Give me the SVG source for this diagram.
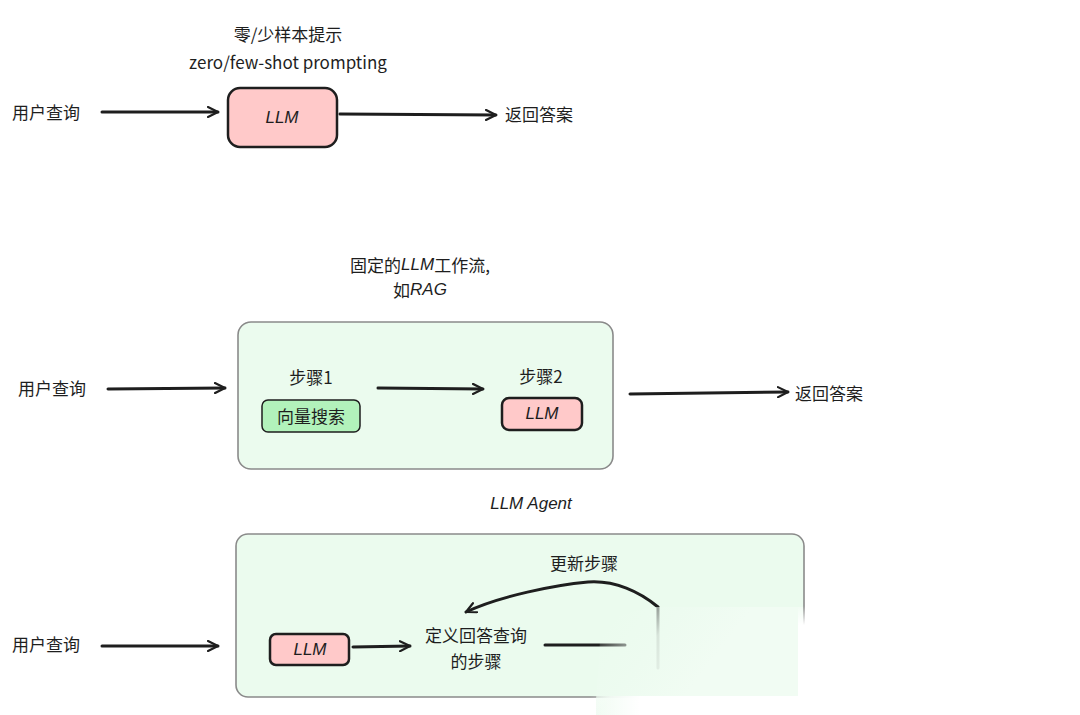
<svg xmlns="http://www.w3.org/2000/svg" width="1080" height="715" viewBox="0 0 1080 715">
<defs>
<marker id="ah" viewBox="0 0 12 12" refX="11" refY="6" markerWidth="12" markerHeight="12" markerUnits="userSpaceOnUse" orient="auto">
<path d="M1,1 L11,6 L1,11" fill="none" stroke="#1e1e1e" stroke-width="2.2" stroke-linecap="round" stroke-linejoin="round"/>
</marker>
<linearGradient id="fade" gradientUnits="userSpaceOnUse" x1="605" y1="625" x2="690" y2="690">
<stop offset="0" stop-color="#edfbf0" stop-opacity="0"/>
<stop offset="0.45" stop-color="#edfbf0" stop-opacity="0.9"/>
<stop offset="1" stop-color="#f1fcf3" stop-opacity="1"/>
</linearGradient>
<linearGradient id="fadeW" gradientUnits="userSpaceOnUse" x1="590" y1="0" x2="640" y2="0">
<stop offset="0" stop-color="#fff" stop-opacity="0"/>
<stop offset="1" stop-color="#fff" stop-opacity="1"/>
</linearGradient>
<linearGradient id="fadeV" gradientUnits="userSpaceOnUse" x1="0" y1="606" x2="0" y2="625">
<stop offset="0" stop-color="#fff" stop-opacity="0"/>
<stop offset="1" stop-color="#fff" stop-opacity="1"/>
</linearGradient>
</defs>
<style>
text{font-family:"Noto Sans CJK SC","Liberation Sans",sans-serif;font-size:17px;fill:#1e1e1e;dominant-baseline:central}
.c{text-anchor:middle}
.it{font-style:italic;font-family:"Liberation Sans","Noto Sans CJK SC",sans-serif}
.pink{fill:#ffc9c9;stroke:#1e1e1e;stroke-width:2.5}
.green{fill:#b2f2bb;stroke:#1e1e1e;stroke-width:1.5}
.frame{fill:#ebfbee;stroke:#8a8a8a;stroke-width:1.6}
.conn{fill:none;stroke:#1e1e1e;stroke-width:3;stroke-linecap:round}
</style>
<rect width="1080" height="715" fill="#fff"/>

<g id="title1">
<text class="c" x="288" y="33">零/少样本提示</text>
<text class="c" x="288" y="61">zero/few-shot prompting</text>
</g>
<g id="q1"><text x="12" y="111">用户查询</text></g>
<g id="llm1"><rect class="pink" x="228" y="88" width="109" height="59" rx="12"/><text class="c it" x="282" y="117">LLM</text></g>
<g id="a1"><text x="505" y="113">返回答案</text></g>

<g id="title2">
<text class="c" x="420" y="264">固定的<tspan class="it">LLM</tspan>工作流,</text>
<text class="c" x="420" y="289">如<tspan class="it">RAG</tspan></text>
</g>
<g id="frame2"><rect class="frame" x="238" y="322" width="375" height="147" rx="13"/></g>
<g id="q2"><text x="18" y="387">用户查询</text></g>
<g id="step1"><text class="c" x="311" y="376">步骤1</text>
<rect class="green" x="262" y="400" width="98" height="32" rx="6"/><text class="c" x="311" y="415">向量搜索</text></g>
<g id="step2"><text class="c" x="541" y="375">步骤2</text>
<rect class="pink" x="502" y="398" width="80" height="32" rx="7"/><text class="c it" x="542" y="413">LLM</text></g>
<g id="a2"><text x="795" y="392">返回答案</text></g>

<g id="title3"><text class="c it" x="531" y="503">LLM Agent</text></g>
<g id="frame3"><rect class="frame" x="236" y="534" width="568" height="163" rx="12"/></g>
<g id="q3"><text x="12" y="643">用户查询</text></g>
<g id="llm3"><rect class="pink" x="270" y="634" width="79" height="31" rx="6"/><text class="c it" x="310" y="649">LLM</text></g>
<g id="define"><text class="c" x="476" y="634">定义回答查询</text><text class="c" x="476" y="660">的步骤</text></g>
<g id="update"><text class="c" x="584" y="562">更新步骤</text></g>

<g id="connectors">
<path class="conn" d="M102,112 L218,112" marker-end="url(#ah)"/>
<path class="conn" d="M340,114 L496,115" marker-end="url(#ah)"/>
<path class="conn" d="M108,389 L225,388" marker-end="url(#ah)"/>
<path class="conn" d="M378,388 L483,389" marker-end="url(#ah)"/>
<path class="conn" d="M630,394 L788,392" marker-end="url(#ah)"/>
<path class="conn" d="M102,646 L218,646" marker-end="url(#ah)"/>
<path class="conn" d="M353,647 L410,646" marker-end="url(#ah)"/>
<path class="conn" d="M545,645 L625,645"/>
<path class="conn" d="M658,668 L658,607 C640,592 615,580 588,582 C555,585 500,596 466,612" marker-end="url(#ah)"/>
</g>
<polygon points="596,700 600,640 620,615 650,607 803,607 803,715 596,715" fill="url(#fade)"/>
<rect x="798" y="606" width="12" height="95" fill="url(#fadeV)"/>
<rect x="590" y="696" width="230" height="19" fill="url(#fadeW)"/>
</svg>
